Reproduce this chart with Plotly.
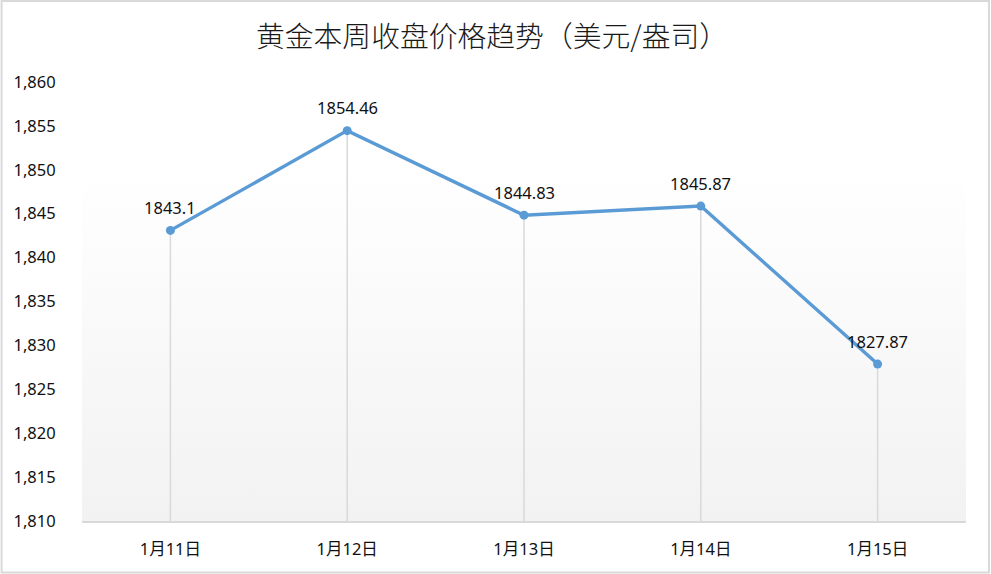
import plotly.graph_objects as go

categories = ["1月11日", "1月12日", "1月13日", "1月14日", "1月15日"]
prices = [1843.1, 1854.46, 1844.83, 1845.87, 1827.87]
price_labels = ["1843.1", "1854.46", "1844.83", "1845.87", "1827.87"]
y_ticks = [1810, 1815, 1820, 1825, 1830, 1835, 1840, 1845, 1850, 1855, 1860]
y_min, y_max = 1810, 1860

W, H = 991, 574
ML, MR, MT, MB = 81.5, 24.5, 82, 53
PW, PH = W - ML - MR, H - MT - MB

n = len(categories)
xs = list(range(n))

fig = go.Figure()

# plot area gradient background
fig.add_trace(go.Scatter(
    x=[-0.5, n - 0.5, n - 0.5, -0.5, -0.5],
    y=[y_min, y_min, y_max, y_max, y_min],
    fill="toself", mode="none",
    fillgradient=dict(type="vertical",
                      colorscale=[[0, "#f2f2f2"], [0.8, "#ffffff"], [1, "#ffffff"]]),
    hoverinfo="skip", showlegend=False,
))

# drop lines
dx, dy = [], []
for x, v in zip(xs, prices):
    dx += [x, x, None]
    dy += [y_min, v, None]
fig.add_trace(go.Scatter(
    x=dx, y=dy, mode="lines",
    line=dict(color="#d9d9d9", width=1.5),
    hoverinfo="skip", showlegend=False,
))

# main line
fig.add_trace(go.Scatter(
    x=xs, y=prices, mode="lines+markers",
    line=dict(color="#5b9bd5", width=3.4),
    marker=dict(color="#5b9bd5", size=9),
    showlegend=False,
))

font_main = "Noto Sans, Noto Sans CJK SC"

for x, v, t in zip(xs, prices, price_labels):
    fig.add_annotation(x=x, y=v, text=t, showarrow=False, yshift=23,
                       font=dict(family=font_main, size=16.5, color="#111111"))

fig.update_layout(
    width=W, height=H,
    margin=dict(l=ML, r=MR, t=MT, b=MB),
    paper_bgcolor="#ffffff", plot_bgcolor="rgba(0,0,0,0)",
    title=dict(text="黄金本周收盘价格趋势（美元/盎司）",
               x=492 / W, xanchor="center", xref="container",
               y=1 - 37 / H, yanchor="middle", yref="container",
               font=dict(family="Noto Sans CJK SC", size=28.8, weight=300, color="#1a1a1a")),
    xaxis=dict(range=[-0.5, n - 0.5], tickvals=xs, ticktext=categories,
               showgrid=False, zeroline=False,
               showline=True, linecolor="#d9d9d9", linewidth=2,
               ticks="outside", ticklen=12, tickcolor="rgba(0,0,0,0)",
               tickfont=dict(family=font_main, size=16.5, color="#111111")),
    yaxis=dict(range=[y_min, y_max], tickvals=y_ticks,
               tickformat=",d", showgrid=False, zeroline=False, showline=False,
               ticks="outside", ticklen=22, tickcolor="rgba(0,0,0,0)",
               tickfont=dict(family=font_main, size=16.5, color="#111111")),
    shapes=[dict(type="rect", xref="paper", yref="paper",
                 x0=-(ML - 1) / PW, x1=(W - 1.5 - ML) / PW,
                 y0=-(MB - 1.5) / PH, y1=1 + (MT - 1) / PH,
                 line=dict(color="#d9d9d9", width=2), fillcolor="rgba(0,0,0,0)",
                 layer="below")],
)

fig.write_html("out.html", config={"displayModeBar": False},
               post_script="document.body.style.margin='0';document.body.style.overflow='hidden';")
